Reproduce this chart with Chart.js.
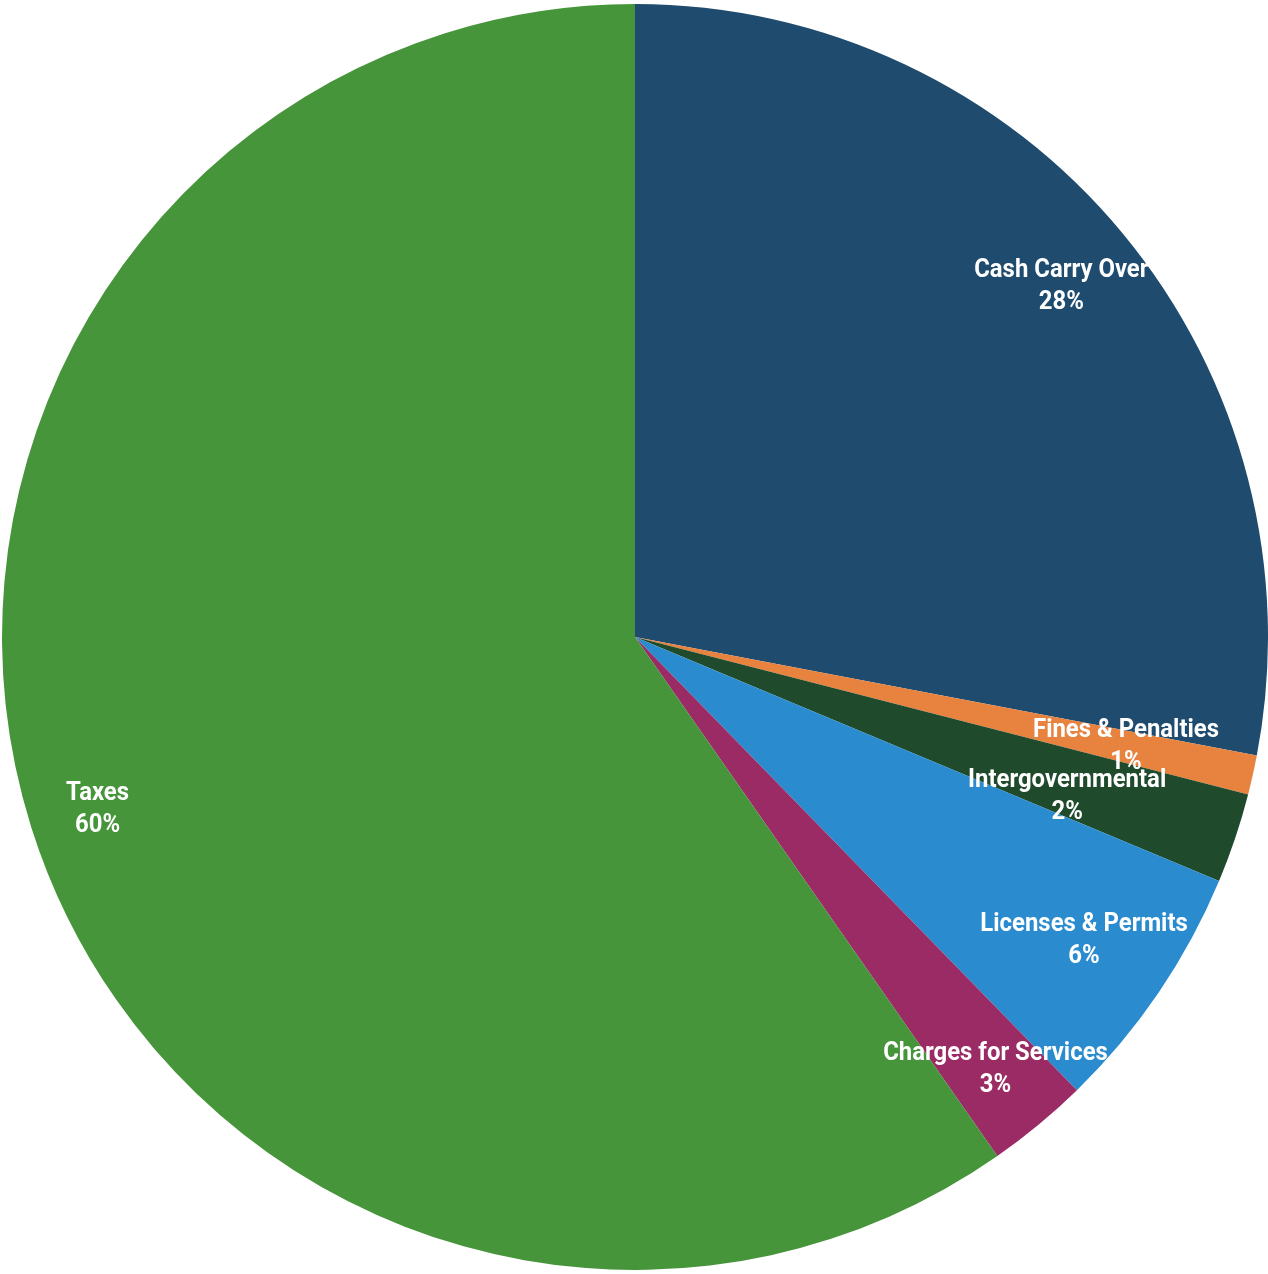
<!DOCTYPE html>
<html>
<head>
<meta charset="utf-8">
<script src="https://cdn.jsdelivr.net/npm/chart.js@4.4.0/dist/chart.umd.min.js"></script>
<style>
  html, body { margin: 0; padding: 0; background: #ffffff; }
  #wrap { width: 1268px; height: 1274px; position: relative; }
</style>
</head>
<body>
<div id="wrap"><canvas id="c" width="1268" height="1274"></canvas></div>
<script>
const categories = ["Cash Carry Over", "Fines & Penalties", "Intergovernmental", "Licenses & Permits", "Charges for Services", "Taxes"];
const values = [28.0, 1.0, 2.3, 6.4, 2.6, 59.7];
const colors = ["#1e4b6e", "#e8833f", "#1f4a2c", "#2a8ccf", "#9a2b64", "#46953a"];
const labelRadius = [0.868, 0.79, 0.715, 0.852, 0.886, 0.895];
const labelShiftY = [0, 0, 16, 0, 0, 3];

const total = values.reduce((a, b) => a + b, 0);

const labelPlugin = {
  id: 'sliceLabels',
  afterDatasetsDraw(chart) {
    const ctx = chart.ctx;
    const meta = chart.getDatasetMeta(0);
    const sx = 0.92;
    ctx.save();
    ctx.fillStyle = '#ffffff';
    ctx.textAlign = 'center';
    ctx.textBaseline = 'middle';
    ctx.font = 'bold 26px Roboto, "Liberation Sans", sans-serif';
    meta.data.forEach((arc, i) => {
      const p = arc.getProps(['x', 'y', 'startAngle', 'endAngle', 'outerRadius'], true);
      const mid = (p.startAngle + p.endAngle) / 2;
      const r = p.outerRadius * labelRadius[i];
      const x = p.x + Math.cos(mid) * r + 3;
      const y = p.y + Math.sin(mid) * r + labelShiftY[i];
      const pct = Math.round(values[i] / total * 100) + '%';
      ctx.save();
      ctx.translate(x, y);
      ctx.scale(sx, 1);
      ctx.fillText(categories[i], 0, -16);
      ctx.fillText(pct, 0, 16);
      ctx.restore();
    });
    ctx.restore();
  }
};

new Chart(document.getElementById('c'), {
  type: 'pie',
  data: {
    labels: categories,
    datasets: [{
      data: values,
      backgroundColor: colors,
      borderWidth: 0
    }]
  },
  options: {
    responsive: false,
    animation: false,
    layout: { padding: { left: 2, right: 0, top: 0, bottom: 0 } },
    plugins: {
      legend: { display: false },
      tooltip: { enabled: false }
    }
  },
  plugins: [labelPlugin]
});
</script>
</body>
</html>
